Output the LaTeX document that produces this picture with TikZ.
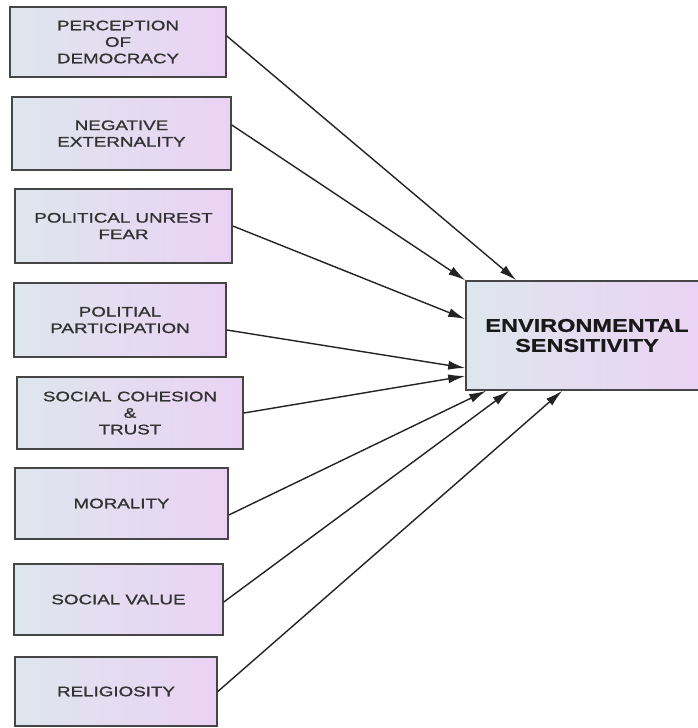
\documentclass[tikz,border=0pt]{standalone}
\usepackage{fontspec}
\usetikzlibrary{arrows.meta}
\newfontfamily\boxfont[FakeStretch=1.36,FakeBold=1.2]{Liberation Sans}
\newfontfamily\envfont[FakeStretch=1.27,FakeBold=0.8]{Liberation Sans Bold}
\definecolor{boxleft}{RGB}{222,230,237}
\definecolor{boxright}{RGB}{235,210,245}
\definecolor{boxline}{RGB}{70,70,70}
\definecolor{txt}{RGB}{50,50,50}
\definecolor{arr}{RGB}{35,35,35}
\tikzset{
  factor/.style={draw=boxline, line width=1.6pt, left color=boxleft, right color=boxright,
    align=center, text=txt, inner sep=0pt,
    font=\boxfont\fontsize{13.8pt}{16.5pt}\selectfont},
  outcome/.style={draw=boxline, line width=1.6pt, left color=boxleft, right color=boxright,
    align=center, text=black!90, inner sep=0pt,
    font=\envfont\fontsize{18.5pt}{20pt}\selectfont},
  link/.style={draw=arr, line width=1.4pt, -{Latex[length=17pt,width=9pt]}}
}
\begin{document}
\begin{tikzpicture}[x=1pt,y=-1pt]
\clip (0,0) rectangle (698,728);
\fill[white] (0,0) rectangle (698,728);
\node[factor, minimum width=216pt, minimum height=70pt] (b1) at (118,42) {PERCEPTION\\OF\\DEMOCRACY};
\node[factor, minimum width=219pt, minimum height=73pt] (b2) at (121.5,133.5) {NEGATIVE\\EXTERNALITY};
\node[factor, minimum width=217pt, minimum height=74pt] (b3) at (123.5,226) {POLITICAL UNREST\\FEAR};
\node[factor, minimum width=212pt, minimum height=74pt] (b4) at (120,320) {POLITIAL\\PARTICIPATION};
\node[factor, minimum width=226pt, minimum height=72pt] (b5) at (130,413) {SOCIAL COHESION\\\&\\TRUST};
\node[factor, minimum width=213pt, minimum height=71pt] (b6) at (121.5,503.5) {MORALITY};
\node[factor, minimum width=209pt, minimum height=71pt] (b7) at (118.5,599.5) {SOCIAL VALUE};
\node[factor, minimum width=202pt, minimum height=69pt] (b8) at (116,691.5) {RELIGIOSITY};
\node[outcome, minimum width=242pt, minimum height=109pt] (env) at (587,335.5) {ENVIRONMENTAL\\SENSITIVITY};

\draw[link] ([yshift=6pt]b1.east) -- ([xshift=51pt]env.north west);
\draw[link] ([yshift=8.5pt]b2.east) -- (env.north west);
\draw[link] (b3.east) -- ([yshift=16.5pt]env.west);
\draw[link] ([yshift=-10pt]b4.east) -- ([yshift=-32.5pt]env.west);
\draw[link] (b5.east) -- ([yshift=-40.5pt]env.west);
\draw[link] ([yshift=-11.5pt]b6.east) -- ([xshift=21pt]env.south west);
\draw[link] ([yshift=-2.5pt]b7.east) -- ([xshift=44pt]env.south west);
\draw[link] (b8.east) -- ([xshift=97pt]env.south west);
\end{tikzpicture}
\end{document}
